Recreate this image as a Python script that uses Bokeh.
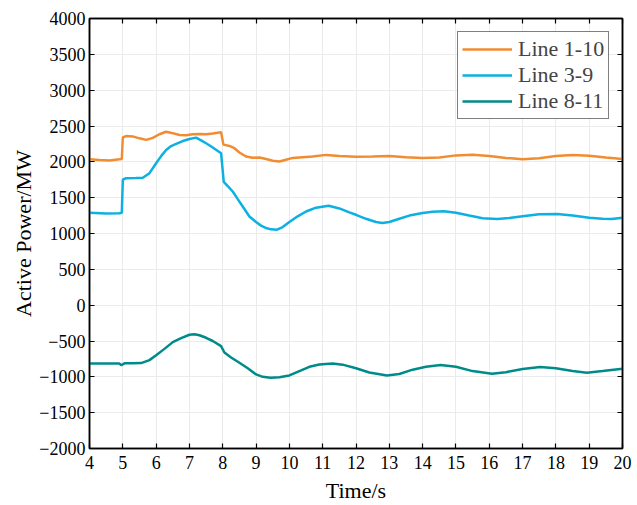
from bokeh.plotting import figure
from bokeh.models import Range1d, FixedTicker, LinearAxis, Legend, LegendItem
from bokeh.embed import file_html
from bokeh.resources import INLINE

# ---- data ----
t_a = [4.0, 4.3, 4.6, 4.9, 4.97, 5.0, 5.1, 5.3, 5.5, 5.7, 5.9, 6.1, 6.3, 6.5, 6.7, 6.9, 7.1, 7.3,
       7.5, 7.7, 7.95, 8.02, 8.2, 8.35, 8.5, 8.7, 8.9, 9.1, 9.3, 9.5, 9.7, 9.9, 10.1, 10.4, 10.7,
       11.1, 11.5, 12.0, 12.5, 13.0, 13.5, 14.0, 14.5, 15.0, 15.5, 16.0, 16.5, 17.0, 17.5, 18.0,
       18.5, 19.0, 19.5, 20.0]
line_1_10 = [2035, 2025, 2018, 2035, 2040, 2340, 2360, 2355, 2328, 2306, 2335, 2385, 2420, 2400,
             2375, 2370, 2385, 2390, 2385, 2395, 2413, 2240, 2222, 2190, 2130, 2075, 2058, 2060,
             2040, 2015, 2005, 2030, 2055, 2065, 2075, 2097, 2080, 2070, 2075, 2082, 2065, 2052,
             2060, 2090, 2100, 2080, 2055, 2037, 2050, 2080, 2097, 2085, 2060, 2041]

t_b = [4.0, 4.5, 4.9, 4.97, 5.0, 5.1, 5.4, 5.6, 5.8, 6.0, 6.15, 6.3, 6.45, 6.6, 6.8, 7.0, 7.2,
       7.35, 7.5, 7.7, 7.95, 8.03, 8.15, 8.3, 8.45, 8.6, 8.8, 9.0, 9.15, 9.3, 9.45, 9.63, 9.8,
       10.0, 10.25, 10.5, 10.8, 11.18, 11.5, 11.8, 12.0, 12.3, 12.6, 12.79, 13.0, 13.3, 13.6,
       14.0, 14.3, 14.64, 15.0, 15.4, 15.8, 16.24, 16.6, 17.0, 17.5, 18.04, 18.5, 19.0, 19.4,
       19.68, 20.0]
line_3_9 = [1290, 1278, 1282, 1290, 1750, 1772, 1775, 1778, 1842, 1981, 2080, 2166, 2220, 2250,
            2290, 2319, 2338, 2300, 2259, 2200, 2120, 1720, 1660, 1586, 1480, 1377, 1238, 1160,
            1110, 1076, 1058, 1053, 1090, 1160, 1240, 1307, 1360, 1387, 1350, 1295, 1261, 1205,
            1160, 1148, 1160, 1205, 1250, 1285, 1302, 1310, 1290, 1250, 1212, 1202, 1215, 1240,
            1268, 1272, 1250, 1220, 1205, 1202, 1220]

t_c = [4.0, 4.5, 4.9, 4.95, 5.05, 5.3, 5.55, 5.8, 6.0, 6.25, 6.5, 6.75, 7.0, 7.15, 7.3, 7.5,
       7.7, 7.95, 8.05, 8.25, 8.5, 8.75, 9.0, 9.2, 9.43, 9.7, 10.0, 10.3, 10.6, 10.9, 11.3, 11.6,
       12.0, 12.4, 12.93, 13.3, 13.7, 14.1, 14.54, 15.0, 15.5, 16.08, 16.5, 17.0, 17.53, 18.0,
       18.5, 18.93, 19.4, 20.0]
line_8_11 = [-815, -815, -815, -838, -812, -810, -808, -767, -700, -610, -516, -460, -413, -405,
             -420, -455, -500, -572, -660, -730, -803, -880, -966, -1000, -1012, -1005, -980,
             -920, -860, -828, -815, -830, -880, -940, -980, -960, -900, -860, -836, -860, -920,
             -956, -935, -890, -864, -880, -920, -942, -920, -886]

series_names = ["Line 1-10", "Line 3-9", "Line 8-11"]
x_ticks = list(range(4, 21))
y_ticks = list(range(-2000, 4001, 500))

colors = ["#F28C30", "#0DB0E2", "#008B8B"]
FONT = "Liberation Serif"

p = figure(width=637, height=505, output_backend="svg", toolbar_location=None,
           x_range=Range1d(4, 20), y_range=Range1d(-2000, 4000),
           min_border_left=89, min_border_right=15, min_border_top=18, min_border_bottom=56)
p.background_fill_color = "white"
p.border_fill_color = "white"
p.outline_line_color = "black"
p.outline_line_width = 1.5

r1 = p.line(t_a, line_1_10, line_color=colors[0], line_width=2.5)
r2 = p.line(t_b, line_3_9, line_color=colors[1], line_width=2.5)
r3 = p.line(t_c, line_8_11, line_color=colors[2], line_width=2.5)

for ax in [p.xaxis[0], p.yaxis[0]]:
    ax.major_tick_in = 5
    ax.major_tick_out = 0
    ax.minor_tick_in = 0
    ax.minor_tick_out = 0
    ax.axis_line_color = "black"
    ax.axis_line_width = 1.5
    ax.major_tick_line_width = 1.2
    ax.major_label_text_font = FONT
    ax.major_label_text_font_size = "18px"
    ax.major_label_text_color = "black"
    ax.axis_label_text_font = FONT
    ax.axis_label_text_font_size = "22px"
    ax.axis_label_text_font_style = "normal"
    ax.axis_label_text_color = "black"

p.xaxis[0].ticker = FixedTicker(ticks=x_ticks)
p.yaxis[0].ticker = FixedTicker(ticks=y_ticks)
p.xaxis[0].axis_label = "Time/s"
p.yaxis[0].axis_label = "Active Power/MW"
p.xaxis[0].major_label_standoff = 7
p.yaxis[0].major_label_standoff = 4
p.xaxis[0].axis_label_standoff = 6
p.yaxis[0].axis_label_standoff = 0

top = LinearAxis(ticker=FixedTicker(ticks=x_ticks),
                 major_label_overrides={t: "" for t in x_ticks})
right = LinearAxis(ticker=FixedTicker(ticks=y_ticks),
                   major_label_overrides={t: "" for t in y_ticks})
for ax in [top, right]:
    ax.major_tick_in = 5
    ax.major_tick_out = 0
    ax.minor_tick_in = 0
    ax.minor_tick_out = 0
    ax.axis_line_color = "black"
    ax.axis_line_width = 1.5
    ax.major_tick_line_width = 1.2
    ax.major_label_standoff = 0
p.add_layout(top, "above")
p.add_layout(right, "right")

p.xgrid.ticker = FixedTicker(ticks=x_ticks)
p.ygrid.ticker = FixedTicker(ticks=y_ticks)
p.xgrid.grid_line_color = "#EBEBEB"
p.ygrid.grid_line_color = "#EBEBEB"
p.xgrid.grid_line_width = 1
p.ygrid.grid_line_width = 1

legend = Legend(items=[LegendItem(label=series_names[0], renderers=[r1]),
                       LegendItem(label=series_names[1], renderers=[r2]),
                       LegendItem(label=series_names[2], renderers=[r3])],
                location=(368, 329), margin=0, padding=4, spacing=0,
                glyph_width=50, glyph_height=22, label_height=22, label_standoff=6,
                label_text_font=FONT, label_text_font_size="22px",
                border_line_color="black", border_line_width=1,
                background_fill_color="white", background_fill_alpha=1)
p.add_layout(legend, "center")

open("out.html", "w").write(file_html(p, INLINE))
